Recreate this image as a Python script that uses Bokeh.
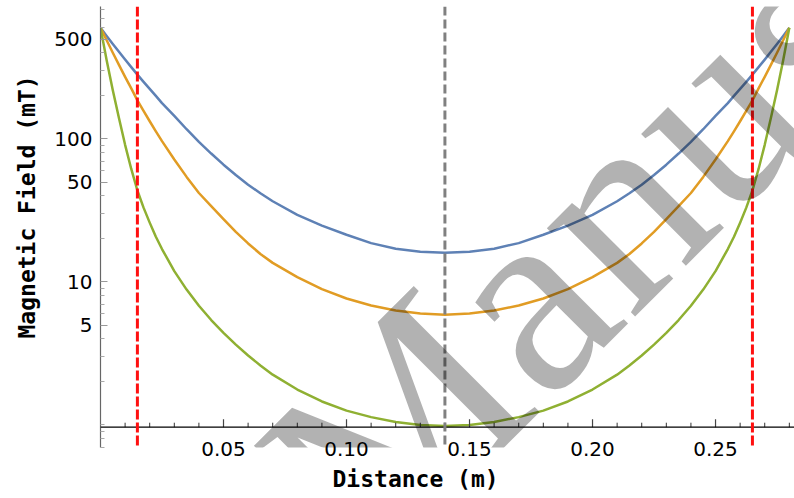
import math
from bokeh.plotting import figure
from bokeh.models import Range1d, Span, FixedTicker, Title, Label
from bokeh.embed import file_html
from bokeh.resources import INLINE

# ---- data ----
distance = [0, 0.0025, 0.005, 0.0075, 0.01, 0.0125, 0.015, 0.0175, 0.02, 0.0225,
            0.025, 0.03, 0.035, 0.04, 0.045, 0.05, 0.055, 0.06, 0.065, 0.07,
            0.08, 0.09, 0.10, 0.11, 0.12, 0.13, 0.14,
            0.15, 0.16, 0.17, 0.18, 0.19, 0.20, 0.21, 0.215, 0.22, 0.225,
            0.23, 0.235, 0.24, 0.245, 0.25, 0.255, 0.2575, 0.26, 0.2625, 0.265,
            0.2675, 0.27, 0.2725, 0.275, 0.2775, 0.28]
field_blue = [600, 525, 462, 407, 359, 318, 282, 251, 224, 200,
              178, 145, 117, 95.5, 79.1, 66.1, 56.0, 47.9, 41.7, 36.7,
              29.5, 24.8, 21.4, 18.7, 17.1, 16.3, 16.0,
              16.3, 17.1, 18.7, 21.4, 24.8, 29.5, 36.7, 41.7, 47.9, 56.0,
              66.1, 79.1, 95.5, 117, 145, 178, 200, 224, 251, 282,
              318, 359, 407, 462, 525, 600]
field_orange = [600, 490, 401, 330, 272, 226, 186, 157, 133, 113,
                96.6, 71.8, 54.3, 41.9, 33.9, 27.5, 22.4, 18.6, 15.7, 13.6,
                10.8, 8.91, 7.67, 6.84, 6.31, 6.03, 5.90,
                6.03, 6.31, 6.84, 7.67, 8.91, 10.8, 13.6, 15.7, 18.6, 22.4,
                27.5, 33.9, 41.9, 54.3, 71.8, 96.6, 113, 133, 157, 186,
                226, 272, 330, 401, 490, 600]
field_green = [600, 355, 219, 140, 91, 61.7, 43.6, 33.1, 26.0, 20.7,
               17.0, 11.9, 8.85, 6.82, 5.42, 4.41, 3.65, 3.06, 2.61, 2.25,
               1.77, 1.46, 1.26, 1.135, 1.05, 1.0, 0.985,
               1.0, 1.05, 1.135, 1.26, 1.46, 1.77, 2.25, 2.61, 3.06, 3.65,
               4.41, 5.42, 6.82, 8.85, 11.9, 17.0, 20.7, 26.0, 33.1, 43.6,
               61.7, 91, 140, 219, 355, 600]
marker_lines = [0.015, 0.265]
center_line = 0.14

x_ticks = [0.05, 0.10, 0.15, 0.20, 0.25]
x_tick_labels = ["0.05", "0.10", "0.15", "0.20", "0.25"]
x_minor_ticks = [0.01, 0.02, 0.03, 0.04, 0.06, 0.07, 0.08, 0.09, 0.11, 0.12,
                 0.13, 0.14, 0.16, 0.17, 0.18, 0.19, 0.21, 0.22, 0.23, 0.24,
                 0.26, 0.27, 0.28]
y_ticks = [5, 10, 50, 100, 500]
y_tick_labels = ["5", "10", "50", "100", "500"]
y_minor_ticks = [0.7, 0.8, 0.9, 1, 2, 3, 4, 6, 7, 8, 9, 20, 30, 40, 60, 70, 80,
                 90, 200, 300, 400, 600, 700, 800]

# ---- layout constants ----
X_START, X_END = 0.0, 0.2821
Y_START, Y_END = 0.696, 844
X_AXIS_AT = 0.965
PX_PER_DECADE = 143.0

p = figure(width=794, height=498, x_range=Range1d(X_START, X_END),
           y_range=Range1d(Y_START, Y_END), y_axis_type="log",
           output_backend="svg", toolbar_location=None,
           min_border_left=100, min_border_right=0, min_border_top=6,
           min_border_bottom=51, background_fill_color="white",
           border_fill_color="white", outline_line_color=None)
p.grid.visible = False

# curves
for vals, col in ((field_blue, "#5E81B5"), (field_orange, "#E19C24"),
                  (field_green, "#8FB032")):
    p.line(distance, vals, line_color=col, line_width=2.5, line_join="round")

# y axis (Bokeh axis at x = 0)
ya = p.yaxis[0]
ya.ticker = FixedTicker(ticks=y_ticks, minor_ticks=y_minor_ticks)
ya.major_label_overrides = {t: s for t, s in zip(y_ticks, y_tick_labels)}
ya.axis_line_color = "#666666"
ya.axis_line_width = 1.2
ya.major_tick_in = 7
ya.major_tick_out = 0
ya.minor_tick_in = 4
ya.minor_tick_out = 0
ya.major_tick_line_color = "#999999"
ya.minor_tick_line_color = "#aaaaaa"
ya.major_label_standoff = 8
ya.major_label_text_font = "DejaVu Sans"
ya.major_label_text_font_size = "20px"
ya.major_label_text_color = "black"

# x axis labels only (line drawn where the axes cross)
xa = p.xaxis[0]
xa.ticker = FixedTicker(ticks=x_ticks)
xa.major_label_overrides = {t: s for t, s in zip(x_ticks, x_tick_labels)}
xa.axis_line_color = None
xa.major_tick_line_color = None
xa.minor_tick_line_color = None
xa.major_tick_in = 0
xa.major_tick_out = 0
xa.major_label_standoff = -6
xa.major_label_text_font = "DejaVu Sans"
xa.major_label_text_font_size = "20px"
xa.major_label_text_color = "black"

p.add_layout(Span(location=X_AXIS_AT, dimension="width",
                  line_color="black", line_width=1.2))
maj_len = 10 ** (8 / PX_PER_DECADE)
min_len = 10 ** (4.5 / PX_PER_DECADE)
p.segment(x0=x_ticks, y0=[X_AXIS_AT] * len(x_ticks), x1=x_ticks,
          y1=[X_AXIS_AT * maj_len] * len(x_ticks), line_color="#444444",
          line_width=1.2)
p.segment(x0=x_minor_ticks, y0=[X_AXIS_AT] * len(x_minor_ticks),
          x1=x_minor_ticks, y1=[X_AXIS_AT * min_len] * len(x_minor_ticks),
          line_color="#333333", line_width=1)

# dashed reference lines
for xm in marker_lines:
    p.add_layout(Span(location=xm, dimension="height", line_color="#ff1010",
                      line_width=3, line_dash="10 3"))
p.add_layout(Span(location=center_line, dimension="height",
                  line_color="#808080", line_width=3, line_dash="9 4"))

# axis titles
p.add_layout(Title(text="Magnetic Field (mT)", align="left", offset=109,
                   standoff=20, vertical_align="top",
                   text_font="DejaVu Sans Mono", text_font_style="bold",
                   text_font_size="23px", text_color="black"), "left")
p.add_layout(Title(text="Distance (m)", align="left", offset=232,
                   standoff=10,
                   text_font="DejaVu Sans Mono", text_font_style="bold",
                   text_font_size="23px", text_color="black"), "below")

# watermark
p.add_layout(Label(x=0.085, y=0.244, text="Manuscript", angle=math.pi / 4,
                   text_font="Liberation Serif", text_font_size="272px",
                   text_color="black", text_alpha=0.3,
                   text_baseline="alphabetic", text_align="left"))

open("out.html", "w").write(file_html(p, INLINE))
